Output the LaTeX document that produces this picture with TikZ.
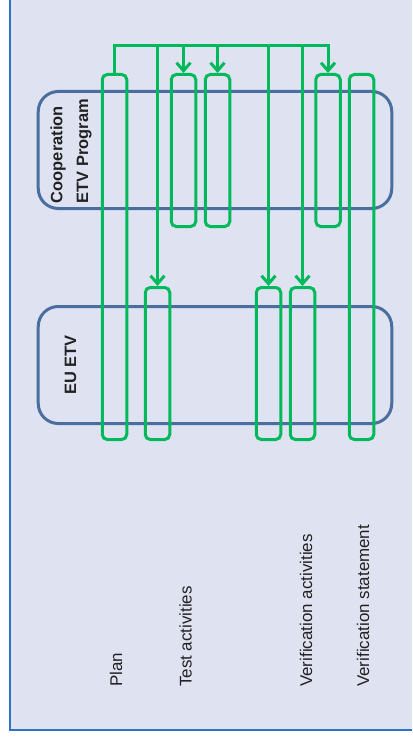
\documentclass[tikz,border=0pt]{standalone}
\usepackage{fontspec}
\setmainfont{Liberation Sans}
\usetikzlibrary{arrows.meta}
\definecolor{bgc}{HTML}{DFE3F1}
\definecolor{framec}{HTML}{2E72C6}
\definecolor{boxc}{HTML}{4A6E9E}
\definecolor{grn}{HTML}{00B95A}
\definecolor{txt}{HTML}{222222}
\tikzset{
  orgbox/.style={draw=boxc, line width=3bp, rounded corners=20bp, inner sep=0pt},
  colbox/.style={draw=grn, line width=3bp, rounded corners=5bp, inner sep=0pt, minimum width=24.5bp},
  flow/.style={draw=grn, line width=3bp},
  flowarrow/.style={flow, -{Straight Barb[length=8bp,width=14bp,line width=3bp]}},
  boldlbl/.style={font=\fontsize{16.5}{26}\selectfont\bfseries, text=txt, rotate=90, align=left, inner sep=0pt},
  rowlbl/.style={font=\fontsize{17}{20}\selectfont, text=txt, rotate=90, anchor=base west, inner sep=0pt}
}
\begin{document}
\begin{tikzpicture}[x=1bp,y=-1bp]
\useasboundingbox (0,0) rectangle (412,740);
\fill[bgc] (10,0) rectangle (412,730);
\draw[framec, line width=1.5bp] (10,0) -- (10,730) -- (412,730);

% organisation boxes
\node[orgbox, minimum width=353.5bp, minimum height=117bp] (coop) at (215,150) {};
\node[orgbox, minimum width=353.5bp, minimum height=117bp] (eu) at (215,365) {};
\node[boldlbl] (cooplbl) at (71,151) {Cooperation\\ETV Program};
\node[boldlbl] (eulbl) at (70.5,365) {EU ETV};

% activity columns
\node[colbox, minimum height=365bp] (plan) at (114.5,257) {};
\node[colbox, minimum height=152bp] (test) at (157.5,363.5) {};
\node[colbox, minimum height=152bp] (ct1) at (183.5,150.5) {};
\node[colbox, minimum height=152bp] (ct2) at (217.5,150.5) {};
\node[colbox, minimum height=152bp] (va1) at (268.5,363.5) {};
\node[colbox, minimum height=152bp] (va2) at (302.5,363.5) {};
\node[colbox, minimum height=152bp] (cv) at (328,150.5) {};
\node[colbox, minimum height=365bp] (st) at (361.5,257) {};

% distribution line
\coordinate (bus) at (0,46);
\draw[flowarrow] (plan.north) -- (plan.north |- bus) -| (cv.north);
\foreach \t in {test,ct1,ct2,va1,va2}
  \draw[flowarrow] (\t.north |- bus) -- (\t.north);

% row labels
\node[rowlbl] (lplan) at (122,687) {Plan};
\node[rowlbl] (ltest) at (191.5,687) {Test activities};
\node[rowlbl] (lva) at (312,687) {Verification activities};
\node[rowlbl] (lvs) at (369,687) {Verification statement};
\end{tikzpicture}
\end{document}
